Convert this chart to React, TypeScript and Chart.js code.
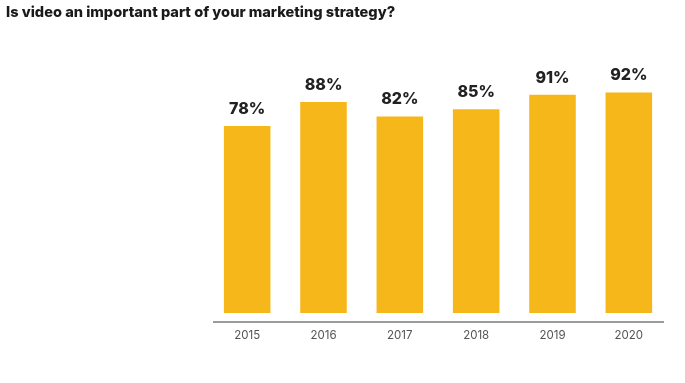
import React, { useEffect, useRef } from "react";
import { Chart, registerables } from "chart.js";

Chart.register(...registerables);

const TITLE = "Is video an important part of your marketing strategy?";
const YEARS = ["2015", "2016", "2017", "2018", "2019", "2020"];
const VALUES = [78, 88, 82, 85, 91, 92];
const BAR_COLOR = "#F6B71B";

const titlePlugin = {
  id: "customTitle",
  afterDraw(chart: any) {
    const ctx = chart.ctx;
    ctx.save();
    ctx.font = "800 14.6px Inter";
    ctx.fillStyle = "#1a1a1a";
    ctx.textAlign = "left";
    ctx.textBaseline = "alphabetic";
    ctx.fillText(TITLE, 6, 16.5);
    ctx.restore();
  },
};

const valueLabels = {
  id: "valueLabels",
  afterDatasetsDraw(chart: any) {
    const ctx = chart.ctx;
    const meta = chart.getDatasetMeta(0);
    ctx.save();
    ctx.font = "800 16px Inter";
    ctx.fillStyle = "#222222";
    ctx.textAlign = "center";
    ctx.textBaseline = "alphabetic";
    meta.data.forEach((bar: any, i: number) => {
      ctx.fillText(VALUES[i] + "%", bar.x, bar.y - 12);
    });
    ctx.restore();
  },
};

const baseline = {
  id: "baseline",
  afterDraw(chart: any) {
    const ctx = chart.ctx;
    const a = chart.chartArea;
    ctx.save();
    ctx.strokeStyle = "#7a7a7a";
    ctx.lineWidth = 1.5;
    ctx.beginPath();
    ctx.moveTo(a.left + 4, a.bottom);
    ctx.lineTo(a.right - 3, a.bottom);
    ctx.stroke();
    ctx.restore();
  },
};

export default function App() {
  const ref = useRef<HTMLCanvasElement>(null);
  useEffect(() => {
    if (!ref.current) return;
    const chart = new Chart(ref.current, {
      type: "bar",
      data: {
        labels: YEARS,
        datasets: [
          {
            data: VALUES,
            backgroundColor: BAR_COLOR,
            borderWidth: 0,
            barPercentage: 0.61,
            categoryPercentage: 1,
          },
        ],
      },
      options: {
        responsive: false,
        animation: false,
        layout: { padding: { left: 209, right: 18, top: 73.3, bottom: 0 } },
        plugins: {
          legend: { display: false },
          tooltip: { enabled: false },
          title: { display: false },
        },
        scales: {
          x: {
            grid: { display: false, drawTicks: false },
            border: { display: false },
            ticks: {
              color: "#555555",
              font: { family: "Inter", size: 11.5 },
              padding: 7,
            },
            afterFit(scale: any) {
              scale.height = 61;
            },
          },
          y: {
            display: false,
            min: -3.75,
            max: 100,
          },
        },
      },
      plugins: [titlePlugin, valueLabels, baseline],
    });
    return () => chart.destroy();
  }, []);
  return (
    <div style={{ position: "absolute", left: 0, top: 0, width: 685, height: 383, background: "#fff" }}>
      <canvas ref={ref} width={685} height={383} style={{ display: "block" }} />
    </div>
  );
}
